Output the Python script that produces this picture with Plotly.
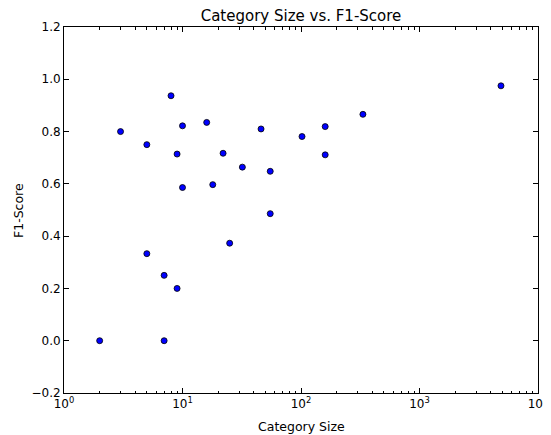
import plotly.graph_objects as go

category_size = [2, 3, 5, 5, 7, 7, 8, 9, 9, 10, 10, 16, 18, 22, 25, 32, 46, 55, 55, 102, 160, 160, 333, 4870]
f1_score = [0.0, 0.8, 0.75, 0.333, 0.25, 0.0, 0.937, 0.714, 0.2, 0.822, 0.586, 0.835, 0.597, 0.717, 0.373,
            0.664, 0.81, 0.648, 0.486, 0.781, 0.819, 0.711, 0.866, 0.975]

x_tickvals = [1, 10, 100, 1000, 10000]
x_ticktext = ["10<sup>0</sup>", "10<sup>1</sup>", "10<sup>2</sup>", "10<sup>3</sup>", "10<sup>4</sup>"]
x_minor = [m * 10 ** k for k in range(4) for m in range(2, 10)]
y_tickvals = [-0.2, 0.0, 0.2, 0.4, 0.6, 0.8, 1.0, 1.2]

fig = go.Figure()
fig.add_trace(go.Scatter(
    x=category_size, y=f1_score, mode="markers",
    marker=dict(color="#0000ff", size=6, line=dict(color="black", width=0.8)),
    showlegend=False,
))

# page body has an 8px margin, so the figure is sized/offset to compensate
W, H = 543, 427
L, R, T, B = 56, 13, 19, 42
font = "DejaVu Sans, sans-serif"
fig.update_layout(
    width=W, height=H,
    margin=dict(l=L, r=R, t=T, b=B, autoexpand=False),
    paper_bgcolor="white", plot_bgcolor="white",
    font=dict(family=font, size=12, color="black"),
    title=dict(text="Category Size vs. F1-Score", x=(L + W - R) / 2 / W, xanchor="center",
               y=1 - 8 / H, yanchor="middle", font=dict(size=15, family=font, color="black")),
)
fig.update_xaxes(
    type="log", range=[0, 4], automargin=False,
    tickmode="array", tickvals=x_tickvals, ticktext=x_ticktext,
    ticks="inside", ticklen=5, tickcolor="black", tickwidth=1,
    minor=dict(tickmode="array", tickvals=x_minor, ticks="inside", ticklen=2.5, tickcolor="black", showgrid=False),
    showline=True, linecolor="black", linewidth=1, mirror="ticks",
    showgrid=False, zeroline=False,
    tickfont=dict(size=12),
)
fig.update_yaxes(
    range=[-0.2, 1.2], automargin=False,
    tickmode="array", tickvals=y_tickvals, tickformat=".1f",
    ticks="inside", ticklen=5, tickcolor="black", tickwidth=1,
    showline=True, linecolor="black", linewidth=1, mirror="ticks",
    showgrid=False, zeroline=False,
    tickfont=dict(size=12),
)
plot_w = W - L - R
plot_h = H - T - B
fig.add_annotation(text="Category Size", xref="paper", yref="paper",
                   x=0.5, y=-(418 - (H - B)) / plot_h, xanchor="center", yanchor="middle",
                   showarrow=False, font=dict(size=12.5))
fig.add_annotation(text="F1-Score", xref="paper", yref="paper", textangle=-90,
                   x=(10 - L) / plot_w, y=((H - B) - 203) / plot_h, xanchor="center", yanchor="middle",
                   showarrow=False, font=dict(size=12.5))

fig.write_html("out.html")
